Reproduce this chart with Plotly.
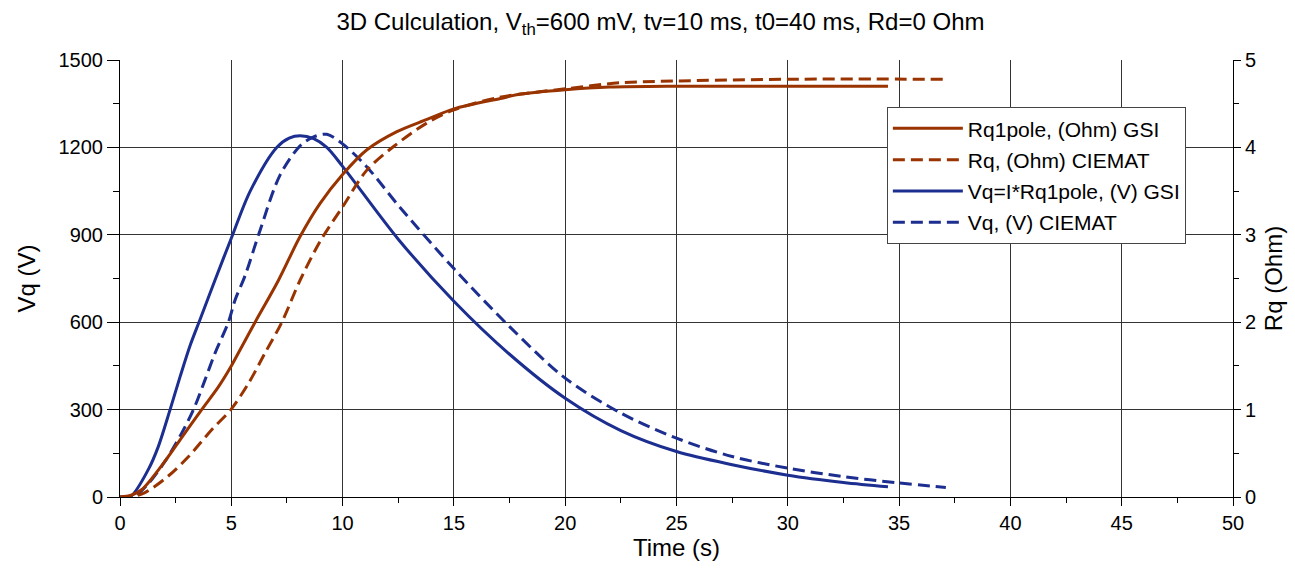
import plotly.graph_objects as go

# ---- data ----
t_vq_gsi = [0, 0.45, 1.27, 1.72, 2.25, 2.7, 3.15, 3.6, 4.27, 5.0, 5.85, 7.04, 7.6, 8.09, 8.7, 9.29, 10.0,
            12.5, 15.0, 17.5, 20.0, 22.5, 25.0, 27.5, 30.0, 32.5, 34.5]
vq_gsi = [0, 0, 94, 173, 300, 413, 520, 610, 745, 888, 1050, 1200, 1232, 1240, 1230, 1200, 1135,
          885, 672, 490, 339, 228, 156, 111, 75, 50, 35]

t_vq_ciemat = [0, 0.6, 1.2, 2.02, 2.77, 3.3, 3.82, 4.27, 4.87, 5.17, 5.62, 6.29, 7.19, 8.09, 8.7, 9.29,
               10.0, 11.09, 12.59, 15.0, 17.5, 20.0, 22.5, 25.0, 27.5, 30.0, 32.5, 35.0, 37.1]
vq_ciemat = [0, 0, 40, 122, 219, 300, 402, 494, 600, 676, 760, 915, 1105, 1205, 1236, 1245,
             1212, 1133, 993, 784, 585, 408, 288, 202, 139, 99, 70, 48, 33]

t_rq_gsi = [0, 0.5, 0.97, 2.02, 2.77, 3.67, 4.42, 4.98, 5.47, 6.07, 7.12, 8.09, 8.99, 10.0, 11.08,
            12.44, 13.79, 15.0, 17.09, 18.0, 20.0, 22.0, 25.0, 30.0, 34.5]
rq_gsi = [0, 0.02, 0.083, 0.41, 0.68, 1.0, 1.26, 1.49, 1.72, 2.0, 2.48, 2.98, 3.36, 3.69, 3.97,
          4.18, 4.32, 4.44, 4.56, 4.61, 4.66, 4.69, 4.70, 4.70, 4.70]

t_rq_ciemat = [0, 0.5, 1.12, 2.17, 3.07, 4.12, 4.98, 5.77, 6.52, 7.27, 8.09, 9.0, 10.0, 11.09, 12.29,
               13.79, 15.0, 17.0, 20.0, 22.5, 25.0, 30.0, 37.2]
rq_ciemat = [0, 0.0, 0.05, 0.24, 0.46, 0.77, 1.0, 1.30, 1.65, 2.0, 2.48, 2.93, 3.32, 3.74, 4.01,
             4.28, 4.43, 4.57, 4.67, 4.74, 4.76, 4.78, 4.78]

series_names = ["Rq1pole, (Ohm) GSI", "Rq, (Ohm) CIEMAT", "Vq=I*Rq1pole, (V) GSI", "Vq, (V) CIEMAT"]

RED = "#993300"
BLUE = "#1C2E8F"
FONT = "Liberation Sans, Arial, sans-serif"
SM = 0.9

fig = go.Figure()
fig.add_trace(go.Scatter(x=t_rq_gsi, y=rq_gsi, name=series_names[0], legendgroup="a", yaxis="y2",
                         mode="lines", line=dict(color=RED, width=3, shape="spline", smoothing=SM)))
fig.add_trace(go.Scatter(x=t_rq_ciemat, y=rq_ciemat, name=series_names[1], legendgroup="b", yaxis="y2",
                         mode="lines",
                         line=dict(color=RED, width=3, dash="12px,6px", shape="spline", smoothing=SM)))
fig.add_trace(go.Scatter(x=t_vq_gsi, y=vq_gsi, name=series_names[2], legendgroup="c", mode="lines",
                         line=dict(color=BLUE, width=3, shape="spline", smoothing=SM)))
fig.add_trace(go.Scatter(x=t_vq_ciemat, y=vq_ciemat, name=series_names[3], legendgroup="d", mode="lines",
                         line=dict(color=BLUE, width=3, dash="12px,6px", shape="spline", smoothing=SM)))

fig.update_layout(
    width=1295, height=572,
    margin=dict(l=120, r=62, t=60, b=75),
    paper_bgcolor="white", plot_bgcolor="white",
    font=dict(family=FONT, color="black", size=20),
    title=dict(text="3D Culculation, V<sub>th</sub>=600 mV, tv=10 ms, t0=40 ms, Rd=0 Ohm",
               x=0.51, xanchor="center", y=0.962, yanchor="middle",
               font=dict(family=FONT, size=24, color="black")),
    xaxis=dict(range=[0, 50], dtick=5, tick0=0, showgrid=True, gridcolor="#333", gridwidth=1,
               showline=True, linecolor="black", linewidth=1, ticks="outside", ticklen=8,
               tickcolor="black", zeroline=False,
               minor=dict(dtick=2.5, ticks="outside", ticklen=5, tickcolor="black", showgrid=False),
               title=dict(text="Time (s)", font=dict(size=24), standoff=5),
               tickfont=dict(size=20)),
    yaxis=dict(range=[0, 1500], dtick=300, tick0=0, showgrid=True, gridcolor="#333", gridwidth=1,
               showline=True, linecolor="black", linewidth=1, ticks="outside", ticklen=12,
               tickcolor="black", zeroline=False,
               minor=dict(dtick=150, ticks="outside", ticklen=6, tickcolor="black", showgrid=False),
               title=dict(text="Vq (V)", font=dict(size=24), standoff=16),
               tickfont=dict(size=20)),
    yaxis2=dict(range=[0, 5], dtick=1, tick0=0, overlaying="y", side="right", showgrid=False,
                showline=True, linecolor="black", linewidth=1, ticks="outside", ticklen=7,
                tickcolor="black", zeroline=False,
                minor=dict(dtick=0.5, ticks="outside", ticklen=5, tickcolor="black", showgrid=False),
                title=dict(text="Rq (Ohm)", font=dict(size=24), standoff=10),
                tickfont=dict(size=20)),
    legend=dict(x=0.689, y=0.892, xanchor="left", yanchor="top", bgcolor="white",
                bordercolor="#444", borderwidth=1, font=dict(size=21, family=FONT),
                itemwidth=70, tracegroupgap=1),
    showlegend=True,
)

fig.write_html("out.html")
